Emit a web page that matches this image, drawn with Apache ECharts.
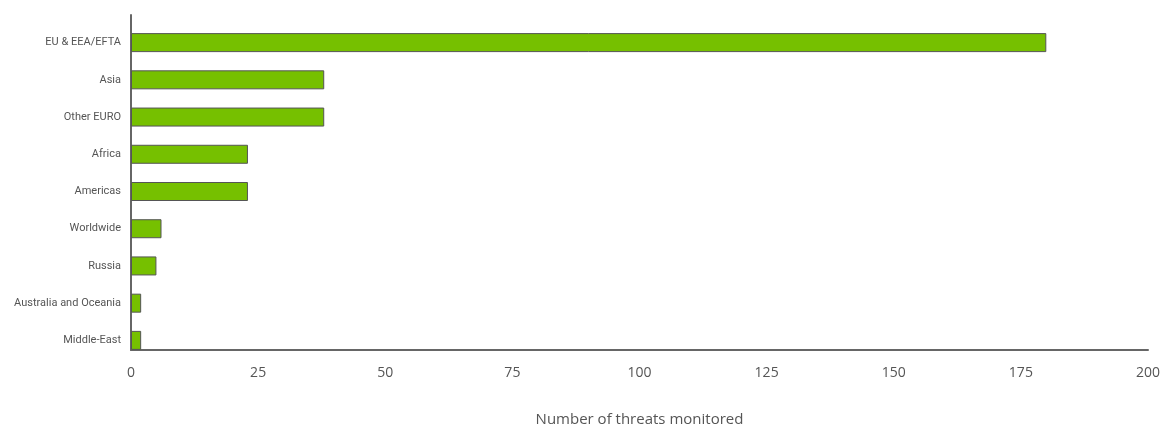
<!DOCTYPE html>
<html lang="en">
<head>
<meta charset="UTF-8">
<title>Threats monitored by region</title>
<style>
    html, body {margin: 0; padding: 0; background: #fff;}
    #chart {width: 1165px; height: 425px;}
</style>
</head>
<body>
<div id="chart"></div>
<script src="https://cdn.jsdelivr.net/npm/echarts@6/dist/echarts.min.js"></script>
<script>
// regions, top to bottom as drawn
const regions = ['EU & EEA/EFTA', 'Asia', 'Other EURO', 'Africa', 'Americas', 'Worldwide', 'Russia', 'Australia and Oceania', 'Middle-East'];
const threats = [180, 38, 38, 23, 23, 6, 5, 2, 2];
const xTicks = [0, 25, 50, 75, 100, 125, 150, 175, 200];

const chart = echarts.init(document.getElementById('chart'));

// grid 0 holds the bars (category bands sit a bit lower than the axis frame),
// grid 1 draws the visible axis frame + x labels
chart.setOption({
    animation: false,
    grid: [
        {left: 131, right: 17, top: 24, bottom: 66, outerBoundsMode: 'none', containLabel: false},
        {left: 131, right: 17, top: 15, bottom: 75, outerBoundsMode: 'none', containLabel: false}
    ],
    xAxis: [{
        gridIndex: 0,
        type: 'value',
        min: xTicks[0],
        max: xTicks[xTicks.length - 1],
        interval: 25,
        show: false
    }, {
        gridIndex: 1,
        type: 'value',
        min: xTicks[0],
        max: xTicks[xTicks.length - 1],
        interval: 25,
        name: 'Number of threats monitored',
        nameLocation: 'middle',
        nameGap: 62,
        nameTextStyle: {color: '#555', fontSize: 15, fontFamily: 'Open Sans'},
        axisLine: {show: true, lineStyle: {color: '#666', width: 2}},
        axisTick: {show: false},
        splitLine: {show: false},
        axisLabel: {color: '#555', fontSize: 14, fontFamily: 'Open Sans', margin: 16}
    }],
    yAxis: [{
        gridIndex: 0,
        type: 'category',
        data: regions,
        inverse: true,
        axisLine: {show: false},
        axisTick: {show: false},
        axisLabel: {color: '#555', fontSize: 11, fontFamily: 'Roboto', margin: 10}
    }, {
        gridIndex: 1,
        type: 'value',
        axisLine: {show: true, lineStyle: {color: '#666', width: 2}},
        axisTick: {show: false},
        axisLabel: {show: false},
        splitLine: {show: false}
    }],
    series: [{
        type: 'bar',
        xAxisIndex: 0,
        yAxisIndex: 0,
        data: threats,
        barWidth: 19,
        itemStyle: {color: '#76c000', borderColor: '#555', borderWidth: 1}
    }]
});
</script>
</body>
</html>
